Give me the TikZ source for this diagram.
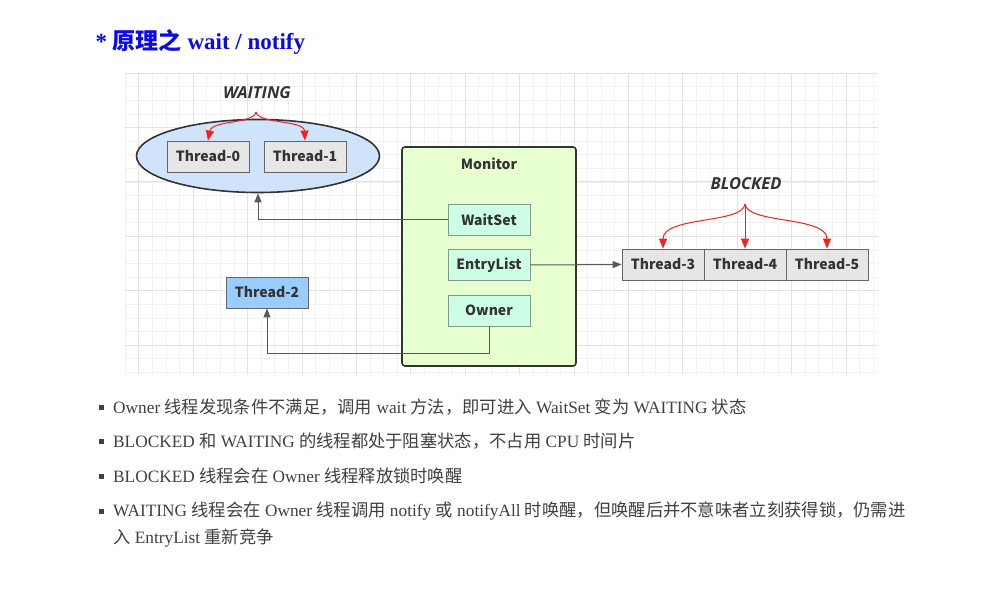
\documentclass[tikz,border=0pt]{standalone}
\usepackage{fontspec}
\setmainfont{Liberation Serif}
\setsansfont{Open Sans}
\newfontfamily\cjk{Noto Sans CJK SC}
\usetikzlibrary{positioning,arrows.meta,shapes.geometric}

\definecolor{titleblue}{RGB}{10,10,235}
\definecolor{gridminor}{HTML}{F1F1F1}
\definecolor{gridmajor}{HTML}{E2E2E2}
\definecolor{waitblue}{HTML}{CFE4FA}
\definecolor{threadgray}{HTML}{E6E6E6}
\definecolor{monitorgreen}{HTML}{E8FFCF}
\definecolor{slotmint}{HTML}{CCFFE6}
\definecolor{slotline}{HTML}{7F9A88}
\definecolor{runblue}{HTML}{99CCFF}
\definecolor{bodygray}{HTML}{404040}
\definecolor{wakered}{HTML}{F52020}

\newcommand{\zh}[1]{{\cjk #1}}
\newcommand{\diagfont}{\cjk\bfseries\fontsize{14}{16}\selectfont}
\newcommand{\statefont}{\sffamily\bfseries\itshape\fontsize{16.5}{18}\selectfont}
\newcommand{\notefont}{\fontsize{17.3}{19}\selectfont}

\begin{document}
\begin{tikzpicture}[x=1pt, y=-1pt,
  thread/.style={draw=black!60, fill=threadgray, line width=0.8pt,
    minimum width=82pt, minimum height=31pt, inner sep=0pt,
    font=\diagfont, text=black!80},
  slot/.style={thread, draw=slotline, fill=slotmint},
  conn/.style={draw=black!65, line width=1pt, -{Triangle[length=9pt, width=7pt]}},
  wake/.style={draw=wakered, line width=1pt, -{Triangle[length=10pt, width=8pt]}},
  statelabel/.style={font=\statefont, text=black!80},
  bullet/.style={fill=bodygray, minimum size=5pt, inner sep=0pt}]
  \useasboundingbox[fill=white] (0,0) rectangle (1001,612);

  % title
  \node[anchor=west, text=titleblue, font=\bfseries\fontsize{23}{25}\selectfont]
    (title) at (92,42) {* \zh{原理之} wait / notify};

  % background grid
  \foreach \i in {0,...,55}
    \draw[gridminor, line width=0.5pt] (125+13.6*\i,73) -- (125+13.6*\i,375);
  \foreach \j in {0,...,22}
    \draw[gridminor, line width=0.5pt] (125,73+13.6*\j) -- (878,73+13.6*\j);
  \foreach \i in {0,...,13}
    \draw[gridmajor, line width=0.6pt] (138.6+54.4*\i,73) -- (138.6+54.4*\i,375);
  \foreach \j in {0,...,5}
    \draw[gridmajor, line width=0.6pt] (125,73+54.4*\j) -- (878,73+54.4*\j);

  % waiting threads
  \node[ellipse, draw=black!80, line width=1.6pt, fill=waitblue,
    minimum width=243pt, minimum height=73pt] (waitpool) at (258,156) {};
  \node[thread] (t0) at (208,156.5) {Thread-0};
  \node[thread] (t1) at (305,156.5) {Thread-1};
  \node[statelabel] (waiting) at (257,93) {WAITING};

  % monitor
  \node[draw=black!80, line width=1.6pt, fill=monitorgreen, rounded corners=3pt,
    minimum width=174pt, minimum height=219pt] (monitor) at (489,256.5) {};
  \node[font=\diagfont, text=black!80] (monlabel) at (489,164) {Monitor};
  \node[slot] (waitset) at (489,219.5) {WaitSet};
  \node[slot] (entrylist) at (489,265) {EntryList};
  \node[slot] (owner) at (489,310.5) {Owner};

  % running thread
  \node[thread, fill=runblue] (t2) at (267,292.5) {Thread-2};

  % blocked threads
  \foreach \n/\x in {3/663, 4/745, 5/827}
    \node[thread] (t\n) at (\x,264.5) {Thread-\n};
  \node[statelabel] (blocked) at (746,184) {BLOCKED};

  % connectors
  \coordinate (ownerturn) at (267,353);
  \draw[conn] (waitset.west) -| (waitpool.south);
  \draw[conn] (entrylist.east) -- (t3.west);
  \draw[conn] (owner.south) |- (ownerturn) -- (t2.south);

  % wake-up arrows
  \coordinate (waitfork) at (256,112);
  \draw[wake] (waitfork) .. controls (254,124) and (212,120) .. (t0.north);
  \draw[wake] (waitfork) .. controls (258,124) and (304,120) .. (t1.north);
  \coordinate (blockfork) at (745,204);
  \draw[wake] (blockfork) .. controls (743,224) and (663,216) .. (t3.north);
  \draw[wake] (blockfork) -- (t4.north);
  \draw[wake] (blockfork) .. controls (747,224) and (827,216) .. (t5.north);

  % notes
  \foreach \ly/\ltxt in {
      407/{Owner \zh{线程发现条件不满足，调用} wait \zh{方法，即可进入} WaitSet \zh{变为} WAITING \zh{状态}},
      441/{BLOCKED \zh{和} WAITING \zh{的线程都处于阻塞状态，不占用} CPU \zh{时间片}},
      476/{BLOCKED \zh{线程会在} Owner \zh{线程释放锁时唤醒}},
      511/{WAITING \zh{线程会在} Owner \zh{线程调用} notify \zh{或} notifyAll \zh{时唤醒，但唤醒后并不意味者立刻获得锁，仍需进}}} {
    \node[bullet] (b\ly) at (101.5,\ly) {};
    \node[anchor=west, text=bodygray, font=\notefont, inner sep=0pt]
      (note\ly) at (113,\ly) {\ltxt};
  }
  \node[anchor=west, text=bodygray, font=\notefont, inner sep=0pt]
    (note538) at (113,538) {\zh{入} EntryList \zh{重新竞争}};
\end{tikzpicture}
\end{document}
